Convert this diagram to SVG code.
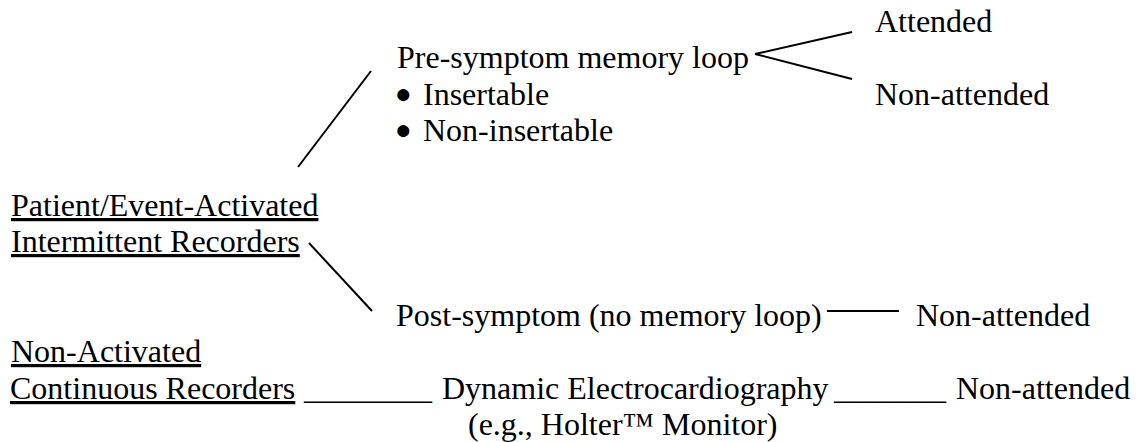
<svg xmlns="http://www.w3.org/2000/svg" width="1141" height="442" viewBox="0 0 1141 442">
<style>
text { font-family: "Liberation Serif", "Times New Roman", serif; font-size: 32px; fill: #000; }
.u { text-decoration: underline; text-decoration-thickness: 1.6px; text-underline-offset: 5px; }
.bullet { font-size: 28px; }
.conn line { stroke: #000; stroke-width: 2; stroke-linecap: butt; }
</style>
<rect width="1141" height="442" fill="#fff"/>
<g class="conn" id="connectors">
<line x1="371" y1="71" x2="298" y2="167" stroke-width="1.7"/>
<line x1="309" y1="243" x2="372" y2="311" stroke-width="1.7"/>
<line x1="755" y1="54" x2="852" y2="32"/>
<line x1="755" y1="54" x2="852" y2="79"/>
<line x1="827" y1="311" x2="899" y2="311"/>
</g>
<g id="patient-activated">
<text class="u" x="11" y="216">Patient/Event-Activated</text>
<text class="u" x="11" y="252">Intermittent Recorders</text>
</g>
<g id="pre-symptom">
<text x="397" y="68">Pre-symptom memory loop</text>
<text class="bullet" x="395" y="103">●</text>
<text x="423" y="105">Insertable</text>
<text class="bullet" x="395" y="139">●</text>
<text x="423" y="141">Non-insertable</text>
</g>
<g id="attended">
<text x="875" y="32">Attended</text>
</g>
<g id="non-attended-1">
<text x="875" y="105">Non-attended</text>
</g>
<g id="post-symptom">
<text x="396" y="326">Post-symptom (no memory loop)</text>
</g>
<g id="non-attended-2">
<text x="916" y="326">Non-attended</text>
</g>
<g id="non-activated">
<text class="u" x="11" y="362">Non-Activated</text>
<text class="u" x="10" y="399">Continuous Recorders</text>
</g>
<g id="dynamic-ecg">
<text x="304" y="399">________</text>
<text x="442" y="399">Dynamic Electrocardiography</text>
<text x="468" y="435">(e.g., Holter™ Monitor)</text>
</g>
<g id="non-attended-3">
<text x="834" y="399">_______</text>
<text x="956" y="399">Non-attended</text>
</g>
</svg>
